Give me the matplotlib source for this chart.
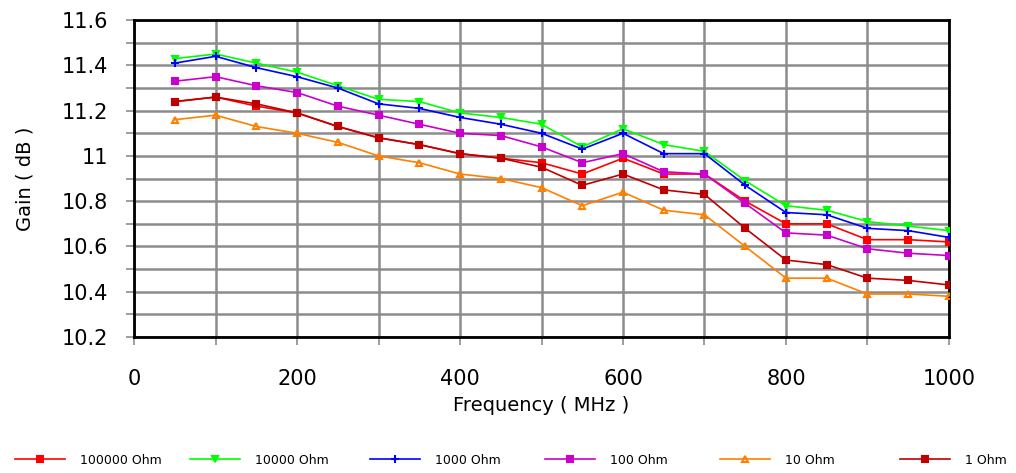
import matplotlib.pyplot as plt
from matplotlib.ticker import MultipleLocator, FuncFormatter

plt.rcParams['font.family'] = ['DejaVu Sans']

# Frequency sweep (MHz)
freq = [50, 100, 150, 200, 250, 300, 350, 400, 450, 500,
        550, 600, 650, 700, 750, 800, 850, 900, 950, 1000]

# Gain (dB) for each load resistance
gain_100000 = [11.24, 11.26, 11.22, 11.19, 11.13, 11.08, 11.05, 11.01, 10.99, 10.97,
               10.92, 10.99, 10.92, 10.92, 10.80, 10.70, 10.70, 10.63, 10.63, 10.62]
gain_10000 = [11.43, 11.45, 11.41, 11.37, 11.31, 11.25, 11.24, 11.19, 11.17, 11.14,
              11.04, 11.12, 11.05, 11.02, 10.89, 10.78, 10.76, 10.71, 10.69, 10.67]
gain_1000 = [11.41, 11.44, 11.39, 11.35, 11.30, 11.23, 11.21, 11.17, 11.14, 11.10,
             11.03, 11.10, 11.01, 11.01, 10.87, 10.75, 10.74, 10.68, 10.67, 10.64]
gain_100 = [11.33, 11.35, 11.31, 11.28, 11.22, 11.18, 11.14, 11.10, 11.09, 11.04,
            10.97, 11.01, 10.93, 10.92, 10.79, 10.66, 10.65, 10.59, 10.57, 10.56]
gain_10 = [11.16, 11.18, 11.13, 11.10, 11.06, 11.00, 10.97, 10.92, 10.90, 10.86,
           10.78, 10.84, 10.76, 10.74, 10.60, 10.46, 10.46, 10.39, 10.39, 10.38]
gain_1 = [11.24, 11.26, 11.23, 11.19, 11.13, 11.08, 11.05, 11.01, 10.99, 10.95,
          10.87, 10.92, 10.85, 10.83, 10.68, 10.54, 10.52, 10.46, 10.45, 10.43]

series = [
    ('100000 Ohm', gain_100000, '#ff0000', 's', 'full', 4),
    ('10000 Ohm', gain_10000, '#00ff00', 'v', 'full', 5),
    ('1000 Ohm', gain_1000, '#0000ff', '+', 'full', 6),
    ('100 Ohm', gain_100, '#cc00cc', 's', 'full', 4),
    ('10 Ohm', gain_10, '#ff8000', '^', 'none', 5),
    ('1 Ohm', gain_1, '#c00000', 's', 'full', 5),
]

fig = plt.figure(figsize=(10.16, 4.73), dpi=100)
ax = fig.add_axes([0.132, 0.2875, 0.802, 0.67])

handles = []
for label, vals, color, marker, fill, ms in series:
    h, = ax.plot(freq, vals, color=color, lw=1.2, marker=marker, ms=ms,
                 fillstyle=fill, mec=color, mew=1.5, label=label, zorder=3)
    handles.append(h)

ax.set_xlim(0, 1000)
ax.set_ylim(10.2, 11.6)
ax.xaxis.set_major_locator(MultipleLocator(200))
ax.xaxis.set_minor_locator(MultipleLocator(100))
ax.yaxis.set_major_locator(MultipleLocator(0.2))
ax.yaxis.set_minor_locator(MultipleLocator(0.1))
ax.yaxis.set_major_formatter(FuncFormatter(lambda v, pos: f'{v:.1f}'.rstrip('0').rstrip('.')))

ax.grid(True, which='both', color='#8c8c8c', lw=1.8, zorder=1)
ax.tick_params(which='both', direction='out', length=6, width=1.2, color='#8c8c8c',
               labelsize=15)
ax.tick_params(axis='x', pad=17)
ax.tick_params(axis='y', pad=13)
for side in ['left', 'bottom', 'top', 'right']:
    ax.spines[side].set_linewidth(2)
    ax.spines[side].set_color('black')

ax.set_xlabel('Frequency ( MHz )', fontsize=14, labelpad=5)
ax.set_ylabel('Gain ( dB )', fontsize=14, labelpad=19)

# one legend entry per slot, evenly spaced along the bottom
slots = [15, 190, 370, 545, 720, 900]
for h, x in zip(handles, slots):
    fig.legend(handles=[h], loc='center left', bbox_to_anchor=(x / 1016, 0.027),
               frameon=False, fontsize=9, handlelength=4, handletextpad=1.2,
               borderpad=0, borderaxespad=0)

fig.savefig('out.png', dpi=100)
